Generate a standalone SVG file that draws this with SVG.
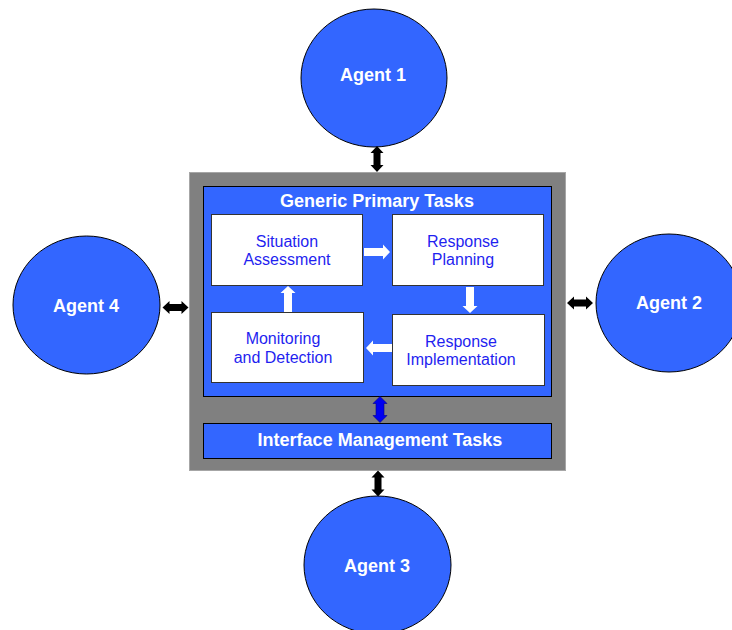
<svg xmlns="http://www.w3.org/2000/svg" width="732" height="630" viewBox="0 0 732 630">
  <style>
    .agent { fill: #3366ff; stroke: #000; stroke-width: 1; }
    .agent-label { font-family: "Liberation Sans", Arial, sans-serif; font-size: 18px; font-weight: bold; fill: #fff; text-anchor: middle; }
    .panel-title { font-family: "Liberation Sans", Arial, sans-serif; font-size: 18px; font-weight: bold; fill: #fff; text-anchor: middle; }
    .task { fill: #fff; stroke: #333; stroke-width: 1; }
    .task-label { font-family: "Liberation Sans", Arial, sans-serif; font-size: 16px; fill: #1f1ff0; text-anchor: middle; }
    .link { fill: #000; }
    .flow { fill: #fff; }
  </style>
  <defs>
    <!-- vertical double-headed arrow, 26px long, centred on origin -->
    <path id="dbl" d="M0,-13 L6.5,-6 L3.5,-6 L3.5,6 L6.5,6 L0,13 L-6.5,6 L-3.5,6 L-3.5,-6 L-6.5,-6 Z"/>
    <!-- wider variant for the internal link -->
    <path id="dbl-wide" d="M0,-13 L7,-6 L4,-6 L4,6 L7,6 L0,13 L-7,6 L-4,6 L-4,-6 L-7,-6 Z"/>
    <!-- single arrow pointing right, 26px long, tail at origin -->
    <path id="step" d="M0,-4 L19,-4 L19,-7.5 L26,0 L19,7.5 L19,4 L0,4 Z"/>
  </defs>

  <rect width="732" height="630" fill="#fff"/>

  <!-- outer agent frame -->
  <g id="frame">
    <rect x="189.5" y="172.5" width="376" height="298" fill="#808080" stroke="#a6a6a6" stroke-width="1"/>
  </g>

  <!-- generic primary tasks panel -->
  <g id="primary-tasks">
    <rect x="203.5" y="186.5" width="348" height="210" fill="#3366ff" stroke="#000" stroke-width="1"/>
    <text class="panel-title" x="377" y="207">Generic Primary Tasks</text>
  </g>

  <g id="situation-assessment">
    <rect class="task" x="211.5" y="214.5" width="151" height="71"/>
    <text class="task-label" x="287" y="247">Situation</text>
    <text class="task-label" x="287" y="265">Assessment</text>
  </g>

  <g id="response-planning">
    <rect class="task" x="392.5" y="214.5" width="151" height="71"/>
    <text class="task-label" x="463" y="247">Response</text>
    <text class="task-label" x="463" y="265">Planning</text>
  </g>

  <g id="response-implementation">
    <rect class="task" x="392.5" y="314.5" width="152" height="71"/>
    <text class="task-label" x="461" y="347">Response</text>
    <text class="task-label" x="461" y="365">Implementation</text>
  </g>

  <g id="monitoring-detection">
    <rect class="task" x="211.5" y="312.5" width="152" height="70"/>
    <text class="task-label" x="283" y="344">Monitoring</text>
    <text class="task-label" x="283" y="363">and Detection</text>
  </g>

  <!-- interface management bar -->
  <g id="interface-management">
    <rect x="203.5" y="423.5" width="348" height="35" fill="#3366ff" stroke="#000" stroke-width="1"/>
    <text class="panel-title" x="380" y="446">Interface Management Tasks</text>
  </g>

  <!-- agents -->
  <g id="agent-1">
    <ellipse class="agent" cx="374" cy="78" rx="73" ry="69"/>
    <text class="agent-label" x="373" y="81">Agent 1</text>
  </g>
  <g id="agent-2">
    <ellipse class="agent" cx="669" cy="303" rx="73" ry="69"/>
    <text class="agent-label" x="669" y="309">Agent 2</text>
  </g>
  <g id="agent-3">
    <ellipse class="agent" cx="377.5" cy="565" rx="73.5" ry="69"/>
    <text class="agent-label" x="377" y="572">Agent 3</text>
  </g>
  <g id="agent-4">
    <ellipse class="agent" cx="86.5" cy="305" rx="73.5" ry="69"/>
    <text class="agent-label" x="86" y="312">Agent 4</text>
  </g>

  <!-- connectors -->
  <g id="connectors">
    <!-- task cycle -->
    <use href="#step" class="flow" transform="translate(364,252)"/>
    <use href="#step" class="flow" transform="translate(470,287) rotate(90)"/>
    <use href="#step" class="flow" transform="translate(392,348) rotate(180)"/>
    <use href="#step" class="flow" transform="translate(288,312) rotate(-90)"/>
    <!-- primary tasks to interface management -->
    <use href="#dbl-wide" fill="#0000f0" stroke="#00008a" stroke-width="0.6" transform="translate(380,409.5)"/>
    <!-- agents to frame -->
    <use href="#dbl" class="link" transform="translate(377,159)"/>
    <use href="#dbl" class="link" transform="translate(378,483.5)"/>
    <use href="#dbl" class="link" transform="translate(175.5,307.5) rotate(90)"/>
    <use href="#dbl" class="link" transform="translate(580,303) rotate(90)"/>
  </g>
</svg>
